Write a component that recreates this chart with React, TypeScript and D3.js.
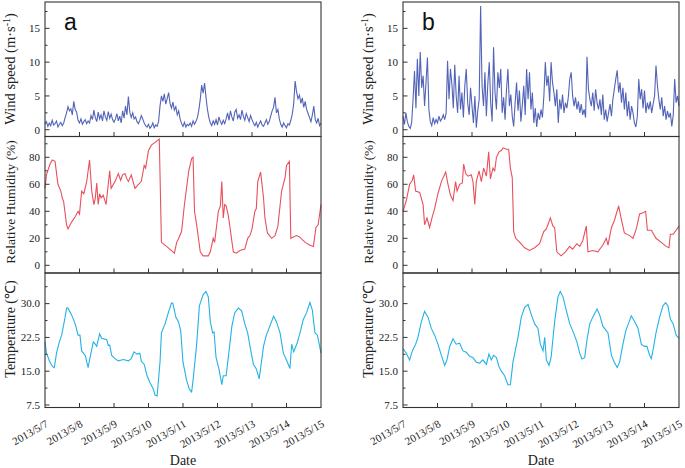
import React from 'react';
import * as d3 from 'd3';

// ---------- data ----------
const dateLabels = ['2013/5/7', '2013/5/8', '2013/5/9', '2013/5/10', '2013/5/11', '2013/5/12', '2013/5/13', '2013/5/14', '2013/5/15'];

// hourly wind speed (m/s), hour 0..192
const windA = [
  0.8, 1.2, 0.5, 1.0, 0.6, 1.4, 0.7, 0.9, 1.3, 0.4, 0.8, 1.1, 0.6, 1.0,
  1.8, 2.5, 3.4, 2.8, 3.1, 2.2, 4.2, 3.0, 2.6,
  1.4, 1.0, 1.6, 0.8, 1.2, 1.5, 0.9, 1.3, 1.0,
  2.1, 1.5, 2.9, 1.8, 1.2, 2.6, 1.6, 2.2, 1.3, 2.8, 1.9, 1.4, 2.7, 1.7, 2.3, 1.5, 1.1,
  1.6, 2.4, 1.3, 2.0, 1.0, 2.8, 1.7, 3.5, 2.2, 4.9, 2.6, 1.8, 2.5, 1.6, 1.9, 1.2,
  0.9, 1.4, 2.1, 1.6, 1.0, 0.6, 0.4, 0.8, 0.2, 0.5, 1.0, 0.3, 0.7, 0.5, 1.2,
  3.5, 5.0, 4.2, 5.3, 3.8, 4.6, 5.5, 3.9, 3.2, 4.1, 2.9, 3.4, 2.2, 2.8, 1.6,
  0.9, 0.5, 1.1, 0.4, 0.8, 0.6, 1.0, 0.5, 1.3, 0.8, 1.2, 1.8,
  2.9, 4.5, 6.6, 5.4, 6.9, 4.8, 3.0, 1.8,
  1.0, 0.6, 1.3, 0.8, 1.5, 0.7, 1.9, 1.2, 0.8, 1.4, 0.9, 1.6,
  2.5, 1.4, 2.8, 1.9, 1.3, 2.6, 3.0, 1.7, 2.2, 1.5, 2.9, 2.0, 1.4, 2.4, 1.8, 1.2, 2.1, 1.5, 1.0,
  0.6, 1.1, 0.4, 0.9, 1.3, 0.7, 0.5, 1.0, 1.5, 0.8, 1.2, 2.0,
  2.8, 3.3, 4.8, 2.5, 3.0, 1.6,
  0.8, 0.4, 1.0, 0.6, 0.3, 0.9, 0.7, 1.4, 2.3,
  3.8, 7.2, 5.6, 4.6, 5.1, 3.9, 4.7, 3.3, 4.2, 3.0, 2.4, 1.8, 1.2,
  2.2, 3.5, 1.5, 1.0, 1.7, 0.6, 1.0,
];

const windB = [
  2.0, 0.8, 2.5, 1.2, 0.5, 0.2, 1.0,
  4.5, 8.7, 3.2, 10.5, 5.0, 11.5, 6.2, 8.0, 3.5, 7.0, 10.7,
  3.0, 1.2, 0.6, 1.8, 0.9, 1.5, 1.0, 2.0, 1.3, 1.6, 2.2, 1.5, 2.5,
  10.2, 4.5, 9.0, 6.8, 3.2, 9.6, 5.0,
  2.5, 8.0, 3.0, 5.5, 1.8, 6.5, 9.0, 4.0, 2.2, 6.2, 3.5, 1.0, 5.0, 0.3, 2.8, 4.5,
  18.3, 6.5,
  3.5, 8.5, 2.0, 6.8, 10.0, 4.0, 1.2, 12.2, 5.5, 3.0, 8.5, 6.2, 9.0, 2.5, 4.8,
  1.5, 6.0, 9.0, 3.5, 5.2, 2.0, 0.5, 4.0, 7.0, 2.8, 5.8, 1.2, 3.6, 6.5, 2.2, 9.0, 4.5, 8.5, 3.0, 5.5, 1.0, 3.2, 0.4, 2.5, 1.5, 3.0, 1.8,
  5.0, 10.0, 6.5, 8.0, 4.2, 10.0, 7.0, 5.5, 3.5, 6.0,
  1.0, 4.5, 3.0, 5.2, 2.5, 4.0, 3.2, 4.8, 7.5,
  8.5, 5.0, 3.5, 4.8, 3.0, 4.2, 2.5, 3.8, 2.2, 3.0, 1.8,
  10.8, 6.0, 4.5,
  3.5, 5.5, 2.8, 6.0, 4.0, 3.0, 4.5, 2.2, 5.2, 1.5, 3.0, 1.2, 2.5, 3.8, 2.0, 4.5,
  6.0, 7.5, 8.8, 5.5, 7.0, 4.0, 6.2,
  3.0, 5.5, 2.0, 4.2, 1.5, 3.5, 2.5, 1.0, 0.4, 2.0,
  7.5, 4.5, 6.0, 3.2, 5.8, 2.5, 4.0,
  3.0, 4.2, 2.5, 3.8, 5.0,
  9.5, 6.5, 4.5,
  3.0, 4.8, 2.0, 3.5, 1.5, 2.8, 1.8, 2.5, 0.5, 2.2,
  7.5, 4.0, 5.0, 3.5,
];

// [hour, relative humidity %]
const rhA: [number, number][] = [
  [0, 57], [1, 67], [3.5, 75], [5, 78], [7, 77], [9, 60], [11, 55], [12, 50], [13, 47], [15, 30], [16, 27],
  [18.5, 32], [21, 36], [23, 40], [24, 38], [25.5, 55], [27, 53], [29, 62], [31, 78], [32.5, 55], [34, 45],
  [35, 50], [36, 61], [37, 45], [38, 53], [39, 50], [40.5, 52], [42.5, 45], [43.5, 55], [45, 70], [46, 57],
  [48.7, 62], [51, 68], [52.6, 63], [54, 67], [55.6, 68], [57, 64], [58, 62], [60, 67], [61, 63], [62.6, 57],
  [65, 60], [67, 62], [69, 74], [70, 72], [72, 85], [74, 89], [77.7, 92], [79.5, 93.5], [81, 17], [84.6, 14],
  [89, 10], [90, 9], [91.6, 17], [93, 20], [95, 25], [97, 45], [100, 70], [102, 79], [103, 80], [104, 40],
  [105.5, 30], [108, 10], [110, 7], [113.6, 7], [115, 10], [117, 20], [118, 17], [120.6, 40], [122, 44],
  [123, 62], [124, 35], [125, 45], [126, 44], [127.5, 37], [128.7, 28], [131, 10], [133, 9], [135.6, 11],
  [139, 12], [141, 20], [142.6, 22], [144, 27], [146, 40], [147, 42], [148, 62], [150, 69], [152, 50],
  [153, 35], [154.7, 24], [157.7, 20], [160, 22], [162, 29], [164.6, 55], [167, 65], [168, 74], [170, 77],
  [171, 20], [172.7, 21], [175, 22], [177, 21], [181, 17], [184, 15], [186.7, 14], [188.5, 28], [190, 30], [192, 45],
];

const rhB: [number, number][] = [
  [0, 40], [2.3, 48], [4.6, 60], [6.5, 63], [7.4, 67], [8.8, 55], [11.6, 54], [14, 45], [15, 30], [16.7, 35],
  [18.5, 28], [20.4, 36], [22, 42], [24.3, 53], [26.7, 62], [29.7, 69], [31.3, 60], [33, 52], [34.8, 48],
  [36.6, 62], [37.6, 55], [39.4, 60], [41.3, 61], [42.2, 75], [43.6, 68], [45.2, 66], [47.5, 67], [48.7, 62],
  [49.9, 45], [51, 62], [52.9, 70], [54.5, 62], [56.1, 72], [58, 66], [59.6, 84], [60.8, 64], [62.6, 72],
  [63.8, 70], [65, 80], [66.8, 84], [68.4, 85], [69.6, 87], [71.9, 86], [73.5, 86], [74.7, 72], [76, 65],
  [77, 25], [78.4, 20], [81.2, 17], [84.6, 13], [88, 11], [91.6, 13], [95, 16], [97.9, 25], [99.7, 27],
  [102.5, 35], [104.3, 29], [105.5, 28], [107, 10], [110, 7], [113, 10], [115.9, 14], [118, 12], [121, 16],
  [122.9, 14], [125, 18], [127.5, 29], [128.7, 10], [132, 11], [135.6, 10], [139, 15], [141.4, 20], [142.6, 15],
  [145, 28], [147, 33], [150, 44], [151.9, 34], [154, 24], [157.7, 22], [160, 20], [162.3, 27], [164.6, 38],
  [167, 39], [168.8, 40], [170, 26], [172.8, 26], [176, 20], [179.7, 17], [183, 14], [185, 13], [186, 23],
  [188, 23], [192, 29],
];

// [hour, temperature °C]
const tempA: [number, number][] = [
  [0, 21.5], [1, 19], [3.5, 17], [5.3, 16], [6.5, 15.8], [8, 19], [10, 21.5], [11.6, 23], [14, 27], [15, 29],
  [16, 29], [18.5, 27.5], [21, 25.5], [23, 23], [24.3, 23], [25.5, 19.5], [28, 18.5], [30, 15.8], [31, 17.5],
  [33.6, 21.5], [35, 21], [36, 20.5], [38, 23.3], [39.4, 22.3], [43, 22], [44, 20.7], [45, 20.8], [46.4, 18.5],
  [48.7, 17.8], [51, 17.3], [54.5, 17.6], [58, 17.3], [60, 17.8], [62, 19.3], [64, 18.8], [66, 19], [67, 17.2],
  [69, 16.5], [71, 14], [73, 12.5], [75.4, 11], [76.5, 9.7], [78, 9.5], [80, 17], [81, 23.5], [83.5, 25.5],
  [85.8, 28], [88, 30.2], [89, 30], [91, 27], [92.8, 26], [94.4, 24], [96, 17], [98.5, 13], [100.4, 11],
  [102, 10.4], [103, 13], [105.5, 21], [107.4, 29.5], [110, 32], [112, 32.7], [113.6, 31.5], [115, 26],
  [116.6, 23.5], [117.6, 23.7], [119, 18], [121, 15.5], [123, 12], [124, 14], [126, 14], [127.5, 18], [130, 25],
  [132, 28], [134.5, 29], [136.8, 28.4], [139, 25.5], [141, 23.5], [142.6, 20.5], [145, 16.5], [147, 15.5],
  [149, 13.3], [152, 20.5], [154, 23], [157, 25.5], [159, 27.2], [161, 26], [163.5, 23.5], [165.8, 19],
  [168, 17.5], [170.4, 15.6], [171.6, 21], [173, 19.3], [175.5, 21.3], [177.4, 23.5], [179.7, 26.5], [182, 28],
  [184.3, 30.3], [186, 28.5], [187.8, 23.5], [189.5, 23], [192, 19],
];

const tempB: [number, number][] = [
  [0, 20], [2.3, 19], [4.6, 17.5], [6.5, 19.5], [8.8, 21], [10.4, 22.5], [12.8, 26], [15, 28.3], [17.4, 27],
  [19.7, 24.5], [22, 23], [24.3, 21], [26.7, 18.5], [29, 16.3], [30.6, 17.5], [32.5, 20.5], [34.8, 22.2],
  [37, 21], [39.4, 21.2], [41.7, 19.5], [44, 19.2], [46.4, 18.3], [48.7, 18], [51, 17], [53.3, 16.8],
  [55.6, 17.5], [58, 16.5], [59.8, 18.8], [61.4, 17.5], [63, 18.5], [65, 18], [66.8, 16], [68.4, 15],
  [70.7, 14], [73, 12], [74.7, 12], [76.5, 17], [78.4, 20], [80, 22.5], [82.3, 27], [84.6, 29.2], [87, 29.8],
  [89.3, 27.5], [91.6, 25.5], [93.9, 24.5], [95.5, 21], [97.4, 19.5], [98.6, 22.5], [99.7, 17.5], [101.6, 16.3],
  [103, 18], [105.5, 26], [107.8, 31.5], [109.4, 32.7], [111.3, 31.5], [113.6, 28.5], [116, 25.5], [118, 24],
  [121, 21.5], [122.9, 19], [124.5, 17.7], [126.4, 18], [128, 22], [129.9, 25.5], [132, 27], [135, 28.8],
  [136.8, 27.5], [139, 25], [141.4, 24], [142.6, 23.5], [145, 18.5], [147, 17], [149, 15.8], [150.7, 17],
  [153, 21], [155, 24], [156.8, 25.5], [158.8, 27.3], [161.2, 26], [163.5, 24.5], [165.8, 21], [168, 20.5],
  [169.7, 20.5], [171.6, 18.5], [172.8, 17.8], [174.4, 20.5], [176, 23.5], [178.5, 27], [180.9, 29.5],
  [182.7, 30.2], [184.3, 29.5], [186, 26.5], [188, 25.5], [190, 23], [192, 22.3],
];

const windTicks = [0, 5, 10, 15];
const windMinor = [2.5, 7.5, 12.5, 17.5];
const rhTicks = [0, 20, 40, 60, 80];
const rhMinor = [10, 30, 50, 70, 90];
const tempTicks = [7.5, 15, 22.5, 30];
const tempMinor = [11.25, 18.75, 26.25, 33.75];

// ---------- layout ----------
const W = 685;
const H = 468;
const PANEL_W = 276;
const panelLefts = [45, 403];
const rowTops = [2, 136.5, 273];
const rowBottoms = [136.5, 273, 407.5];
const serif = '"Liberation Serif", "Times New Roman", serif';

type RowDef = {
  domain: [number, number];
  ticks: number[];
  minor: number[];
  fmt: (v: number) => string;
  color: string;
  title: React.ReactNode;
  titleY: number;
  titleSize: number;
};

const rows: RowDef[] = [
  {
    domain: [-1.0, 18.9], ticks: windTicks, minor: windMinor, fmt: (v) => String(v), color: '#5364b8',
    title: (<>Wind speed (m·s<tspan dy={-5} fontSize={10}>-1</tspan><tspan dy={5}>)</tspan></>), titleY: 69, titleSize: 14.5,
  },
  {
    domain: [-5.7, 95.4], ticks: rhTicks, minor: rhMinor, fmt: (v) => String(v), color: '#e8505c',
    title: 'Relative Humidity (%)', titleY: 202, titleSize: 13.5,
  },
  {
    domain: [6.94, 36.8], ticks: tempTicks, minor: tempMinor, fmt: (v) => v.toFixed(1), color: '#23b2e6',
    title: 'Temperature (℃)', titleY: 329, titleSize: 14,
  },
];

const panelsData = [
  { letter: 'a', series: [windA.map((v, i) => [i, v] as [number, number]), rhA, tempA] },
  { letter: 'b', series: [windB.map((v, i) => [i, v] as [number, number]), rhB, tempB] },
];

function Panel({ left, letter, series }: { left: number; letter: string; series: [number, number][][] }) {
  const x = d3.scaleLinear().domain([0, 192]).range([left, left + PANEL_W]);
  const dayTicks = dateLabels.map((_, i) => i * 24);
  return (
    <g>
      {rows.map((row, r) => {
        const top = rowTops[r];
        const bottom = rowBottoms[r];
        const y = d3.scaleLinear().domain(row.domain).range([bottom, top]);
        const line = d3.line<[number, number]>().x((d) => x(d[0])).y((d) => y(d[1]));
        return (
          <g key={r}>
            <path d={line(series[r]) || ''} fill="none" stroke={row.color} strokeWidth={1.1} />
            {row.ticks.map((t) => (
              <g key={'t' + t}>
                <line x1={left} x2={left + 4.5} y1={y(t)} y2={y(t)} stroke="#333" strokeWidth={1} />
                <text x={left - 5} y={y(t)} dy="0.35em" textAnchor="end" fontSize={11} fontFamily={serif} fill="#222">
                  {row.fmt(t)}
                </text>
              </g>
            ))}
            {row.minor.filter((t) => y(t) > top + 1).map((t) => (
              <line key={'m' + t} x1={left} x2={left + 2.5} y1={y(t)} y2={y(t)} stroke="#333" strokeWidth={1} />
            ))}
            {dayTicks.slice(1, -1).map((h) => (
              <line key={'x' + h} x1={x(h)} x2={x(h)} y1={bottom} y2={bottom - 4.5} stroke="#333" strokeWidth={1} />
            ))}
            <rect x={left} y={top} width={PANEL_W} height={bottom - top} fill="none" stroke="#333" strokeWidth={1.1} />
            <text
              transform={`translate(${left - 30},${row.titleY}) rotate(-90)`}
              textAnchor="middle" fontSize={row.titleSize} fontFamily={serif} fill="#222"
            >
              {row.title}
            </text>
          </g>
        );
      })}
      <text x={left + 19} y={30} fontSize={23} fontFamily='"Liberation Sans", Arial, sans-serif' fill="#111">{letter}</text>
      {dateLabels.map((lab, i) => (
        <text
          key={lab}
          transform={`translate(${x(i * 24) + 4},${426}) rotate(-30)`}
          textAnchor="end" fontSize={11} fontFamily={serif} fill="#222"
        >
          {lab}
        </text>
      ))}
      <text x={left + PANEL_W / 2} y={465} textAnchor="middle" fontSize={14} fontFamily={serif} fill="#222">Date</text>
    </g>
  );
}

export default function App() {
  return (
    <svg width={W} height={H} style={{ position: 'absolute', left: 0, top: 0, background: '#fff' }}>
      <rect x={0} y={0} width={W} height={H} fill="#fff" />
      {panelsData.map((p, i) => (
        <Panel key={p.letter} left={panelLefts[i]} letter={p.letter} series={p.series} />
      ))}
    </svg>
  );
}
